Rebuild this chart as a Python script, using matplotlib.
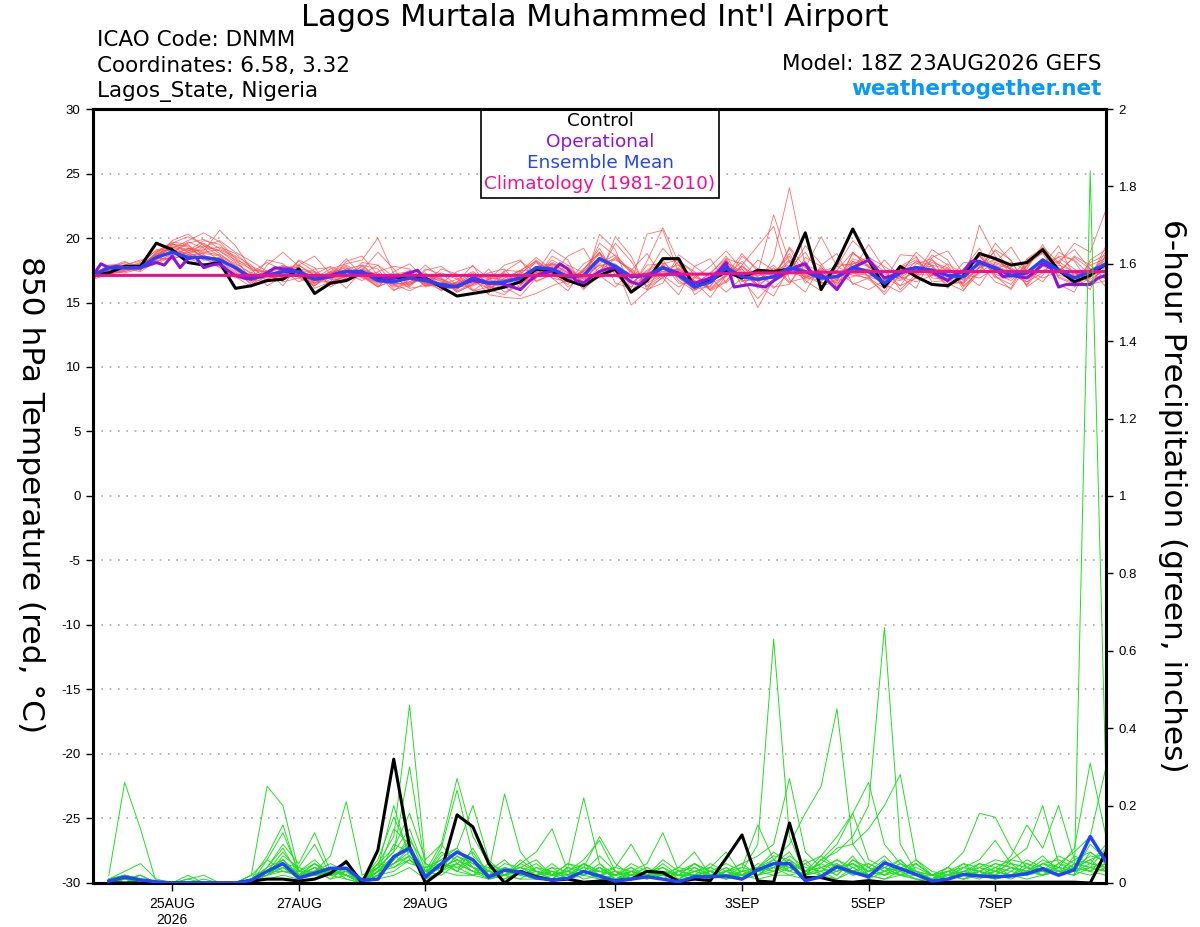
import numpy as np
import pandas as pd
import matplotlib
matplotlib.use('Agg')
import matplotlib.pyplot as plt
import matplotlib.dates as mdates
from matplotlib.patches import Rectangle

plt.rcParams['font.family'] = ['Liberation Sans', 'DejaVu Sans']
HEAD = ['DejaVu Sans']

# time axis: GEFS 18Z run, 6-hourly (operational 3-hourly)
times = pd.date_range('2026-08-23 18:00', periods=65, freq='6h')
ptimes = times[1:]
op_times = pd.date_range('2026-08-23 18:00', periods=129, freq='3h')

tick_dates = pd.to_datetime(['2026-08-25', '2026-08-27', '2026-08-29', '2026-09-01',
                             '2026-09-03', '2026-09-05', '2026-09-07'])
tick_labels = ['25AUG\n2026', '27AUG', '29AUG', '1SEP', '3SEP', '5SEP', '7SEP']

# 850 hPa temperature (C)
control_t = [17.1, 17.3, 17.8, 17.8, 19.6, 19.1, 18.1, 17.9, 18.1, 16.1,
             16.3, 16.7, 16.8, 17.6, 15.7, 16.5, 16.7, 17.3, 16.9, 16.9,
             17.0, 16.9, 16.2, 15.5, 15.7, 15.9, 16.2, 16.6, 17.6, 17.4,
             16.7, 16.3, 17.1, 17.6, 15.8, 16.7, 18.4, 18.4, 16.2, 16.7,
             17.4, 16.9, 17.5, 17.4, 17.6, 20.4, 16.0, 18.1, 20.7, 18.3,
             16.2, 17.8, 17.0, 16.4, 16.3, 17.1, 18.8, 18.4, 17.9, 18.1,
             19.1, 17.5, 16.6, 17.1, 18.0]

mean_t = [17.1, 17.7, 17.7, 17.7, 18.5, 18.9, 18.5, 18.5, 18.3, 17.7,
          16.9, 17.1, 17.4, 17.4, 16.8, 17.0, 17.4, 17.4, 16.7, 16.6,
          16.9, 16.7, 16.4, 16.2, 16.9, 16.5, 16.6, 16.9, 17.7, 17.6,
          17.0, 17.1, 18.4, 17.8, 17.0, 17.1, 17.7, 17.1, 16.2, 16.6,
          17.7, 17.0, 16.8, 17.0, 17.7, 17.4, 16.9, 17.0, 17.7, 17.4,
          16.5, 17.3, 17.7, 17.5, 17.1, 17.0, 18.1, 17.7, 17.1, 17.3,
          18.3, 17.5, 16.9, 17.4, 18.0]

oper_t = [17.1, 18.0, 17.7, 17.8, 17.7, 17.7, 17.7, 17.9, 18.1, 17.9,
          18.6, 17.7, 18.4, 18.5, 17.7, 17.9, 18.0, 17.5, 17.1, 16.9,
          16.8, 17.0, 17.3, 17.7, 17.6, 17.6, 17.3, 17.0, 16.8, 16.9,
          17.1, 17.3, 17.4, 17.3, 17.2, 17.2, 17.0, 16.9, 16.9, 17.1,
          17.3, 17.5, 16.8, 16.6, 16.3, 16.2, 16.3, 16.5, 16.7, 16.6,
          16.5, 16.5, 16.4, 16.2, 16.0, 16.6, 17.1, 17.3, 17.4, 18.0,
          17.6, 16.7, 16.5, 17.0, 17.4, 17.6, 17.7, 17.1, 16.6, 16.4,
          16.9, 17.3, 17.7, 17.5, 17.3, 16.8, 16.5, 16.7, 16.9, 17.4,
          18.1, 16.2, 16.3, 16.4, 16.3, 16.2, 16.7, 17.1, 17.5, 17.8,
          18.0, 17.1, 17.2, 16.6, 16.0, 16.9, 17.7, 18.0, 18.3, 17.6,
          16.9, 17.1, 17.4, 17.6, 17.7, 17.6, 17.4, 17.0, 16.7, 17.2,
          17.4, 18.2, 18.2, 17.9, 17.6, 17.0, 17.1, 17.0, 16.9, 17.4,
          18.0, 17.7, 16.2, 16.4, 16.4, 16.4, 16.4, 16.9, 17.1]

clim_t = [17.1, 17.1, 17.1, 17.1, 17.1, 17.1, 17.1, 17.1, 17.1, 17.1,
          17.1, 17.1, 17.1, 17.1, 17.1, 17.1, 17.1, 17.1, 17.1, 17.1,
          17.1, 17.1, 17.1, 17.1, 17.1, 17.1, 17.1, 17.1, 17.1, 17.1,
          17.1, 17.1, 17.1, 17.1, 17.1, 17.15, 17.15, 17.2, 17.2, 17.2,
          17.25, 17.25, 17.3, 17.3, 17.3, 17.35, 17.35, 17.35, 17.4, 17.4,
          17.4, 17.4, 17.4, 17.4, 17.4, 17.4, 17.4, 17.4, 17.4, 17.4,
          17.4, 17.4, 17.4, 17.4, 17.4]

temp_members = [
    [17.0, 17.6, 17.9, 18.2, 19.0, 19.6, 20.1, 19.5, 19.0, 18.1,
     17.2, 17.0, 17.6, 17.9, 17.1, 16.8, 17.6, 17.9, 16.9, 16.4,
     16.6, 17.2, 16.8, 15.9, 16.5, 16.9, 17.3, 16.4, 17.2, 18.1,
     17.6, 16.8, 18.0, 18.7, 17.4, 16.5, 17.2, 17.6, 16.0, 16.3,
     17.9, 17.3, 16.4, 18.5, 23.9, 17.8, 16.5, 16.8, 18.4, 17.9,
     16.8, 17.0, 18.2, 17.9, 16.6, 16.5, 17.7, 18.4, 17.5, 16.9,
     17.8, 18.2, 17.3, 16.8, 17.6],
    [17.3, 17.4, 17.5, 17.9, 18.6, 19.2, 19.8, 20.4, 19.7, 18.4,
     16.8, 16.6, 17.2, 17.0, 16.5, 17.4, 17.9, 17.2, 16.4, 16.9,
     17.3, 16.5, 16.0, 16.6, 17.3, 16.2, 16.1, 17.2, 18.3, 17.3,
     16.6, 17.6, 18.9, 17.4, 16.5, 17.5, 18.3, 16.7, 15.9, 17.0,
     18.3, 16.6, 17.3, 21.8, 18.1, 16.9, 17.4, 17.8, 17.1, 16.9,
     16.1, 17.8, 18.5, 16.9, 16.8, 17.6, 18.6, 17.2, 16.7, 17.8,
     19.2, 17.0, 16.5, 17.9, 18.4],
    [16.9, 17.8, 17.6, 17.4, 18.2, 18.7, 19.2, 19.0, 20.6, 19.4,
     17.6, 17.3, 16.9, 17.5, 17.3, 16.6, 17.0, 17.6, 17.1, 16.3,
     16.5, 16.9, 16.7, 15.8, 16.4, 16.8, 17.0, 16.6, 17.5, 17.9,
     17.3, 16.6, 18.2, 18.3, 17.6, 16.8, 17.3, 17.4, 16.6, 16.1,
     17.2, 17.6, 16.2, 17.3, 17.5, 18.2, 16.3, 16.6, 18.8, 18.1,
     16.9, 16.7, 17.4, 18.3, 17.4, 16.3, 17.4, 18.0, 17.6, 16.6,
     18.0, 18.5, 17.6, 16.6, 17.2],
    [17.2, 17.9, 18.0, 17.6, 18.8, 19.6, 18.9, 18.3, 18.1, 17.3,
     16.5, 17.4, 17.8, 17.1, 16.4, 17.2, 17.8, 17.0, 16.2, 16.8,
     17.1, 16.3, 16.5, 16.5, 17.1, 16.0, 16.9, 17.5, 17.4, 17.2,
     16.4, 17.5, 19.2, 17.1, 16.2, 17.9, 18.0, 16.5, 16.5, 17.2,
     18.6, 16.7, 16.7, 16.9, 19.2, 17.0, 17.6, 16.5, 17.3, 16.8,
     15.8, 17.9, 17.2, 17.1, 17.6, 16.9, 18.9, 17.0, 16.4, 18.1,
     18.8, 16.9, 16.4, 17.0, 19.0],
    [17.0, 17.5, 17.8, 18.0, 18.4, 18.4, 18.7, 19.3, 19.8, 18.9,
     18.2, 17.4, 16.3, 17.9, 18.6, 17.2, 16.1, 17.5, 18.9, 17.6,
     16.2, 17.5, 17.8, 16.9, 15.9, 16.8, 17.9, 18.3, 16.6, 17.2,
     18.6, 19.2, 17.1, 16.2, 17.5, 18.8, 16.9, 15.6, 17.8, 18.4,
     16.5, 17.9, 19.4, 20.9, 16.8, 15.8, 17.9, 18.8, 16.4, 16.9,
     18.3, 17.0, 16.1, 18.5, 19.0, 17.2, 16.3, 18.1, 19.3, 17.4,
     16.6, 18.2, 19.1, 17.6, 16.2],
    [16.8, 17.2, 17.4, 17.7, 18.9, 19.5, 19.4, 18.7, 17.9, 17.0,
     16.2, 17.9, 18.9, 17.8, 16.1, 16.6, 18.2, 18.6, 17.1, 15.9,
     16.8, 17.9, 16.9, 15.8, 16.4, 17.6, 16.2, 15.5, 16.9, 18.6,
     17.9, 16.4, 20.3, 19.1, 15.9, 17.2, 19.2, 17.9, 16.6, 15.4,
     17.1, 18.8, 17.4, 16.1, 17.3, 19.4, 18.0, 16.2, 17.5, 19.5,
     17.6, 16.0, 17.2, 19.1, 18.3, 16.2, 17.4, 19.6, 18.2, 16.3,
     17.9, 19.4, 17.0, 16.0, 18.8],
    [17.4, 17.7, 17.9, 18.3, 18.1, 18.8, 19.6, 19.9, 19.2, 18.6,
     17.9, 16.6, 16.9, 18.3, 17.7, 16.2, 16.9, 18.1, 17.9, 16.4,
     15.9, 16.5, 17.6, 17.2, 16.0, 15.7, 17.4, 18.2, 17.3, 19.1,
     18.3, 16.1, 17.0, 20.1, 18.6, 16.0, 16.5, 18.7, 17.8, 16.9,
     15.8, 16.9, 18.3, 17.5, 17.9, 16.7, 15.9, 17.8, 19.8, 18.6,
     16.9, 16.3, 18.0, 18.4, 16.5, 15.9, 17.8, 19.0, 17.5, 16.4,
     18.2, 17.3, 18.6, 17.9, 16.8],
    [17.1, 17.3, 17.6, 17.5, 18.7, 19.4, 19.1, 18.6, 18.4, 17.6,
     16.7, 18.3, 18.0, 16.9, 16.3, 17.1, 18.4, 17.1, 16.2, 17.4,
     18.0, 16.8, 15.9, 16.6, 17.9, 16.0, 15.6, 16.8, 18.2, 16.9,
     15.9, 17.6, 18.9, 16.5, 16.1, 18.2, 20.8, 18.1, 15.6, 16.5,
     18.4, 18.0, 16.3, 15.5, 17.7, 18.9, 17.0, 16.0, 18.2, 17.0,
     15.6, 17.2, 18.9, 17.8, 16.1, 17.6, 19.2, 17.1, 16.0, 17.9,
     19.3, 18.1, 16.2, 16.9, 19.4],
    [17.0, 17.6, 18.1, 17.8, 18.3, 19.0, 18.8, 19.6, 18.8, 17.8,
     17.0, 16.8, 17.3, 17.6, 16.9, 17.6, 18.0, 18.3, 20.0, 17.2,
     16.5, 17.3, 16.3, 16.0, 17.0, 16.9, 16.8, 16.9, 17.3, 17.8,
     17.2, 16.9, 17.9, 18.0, 17.1, 17.0, 17.4, 17.6, 16.7, 16.2,
     18.1, 17.4, 16.4, 17.1, 18.3, 17.1, 16.6, 18.0, 17.9, 17.0,
     16.6, 17.1, 17.7, 17.8, 16.7, 16.8, 18.0, 17.9, 17.3, 17.1,
     18.4, 17.6, 17.1, 17.6, 17.7],
    [17.3, 17.5, 17.7, 18.1, 18.5, 19.8, 20.3, 19.4, 18.6, 17.5,
     16.7, 17.3, 17.9, 17.3, 16.5, 17.1, 17.6, 17.3, 16.5, 16.9,
     17.2, 16.6, 16.2, 16.3, 16.7, 16.6, 16.5, 17.4, 18.5, 17.5,
     16.7, 17.2, 18.3, 17.7, 16.9, 17.3, 17.8, 17.2, 16.3, 16.9,
     17.8, 17.1, 17.2, 17.5, 17.6, 17.9, 17.4, 17.2, 17.5, 17.6,
     16.7, 17.6, 17.3, 17.6, 17.5, 17.4, 18.0, 17.4, 17.0, 18.3,
     19.0, 18.0, 19.6, 18.9, 22.2],
    [16.9, 17.4, 17.3, 17.6, 18.0, 18.6, 19.2, 18.9, 18.7, 18.0,
     17.3, 17.0, 16.8, 17.6, 17.4, 16.8, 16.8, 17.4, 17.0, 16.2,
     16.4, 16.9, 16.8, 16.3, 16.6, 16.1, 16.7, 16.7, 17.8, 18.0,
     17.4, 16.4, 17.5, 17.9, 14.8, 15.9, 17.0, 17.5, 16.9, 16.6,
     17.3, 16.8, 15.3, 16.6, 17.3, 17.0, 16.5, 16.7, 18.2, 17.8,
     17.0, 16.9, 17.8, 17.2, 16.4, 16.6, 17.8, 18.1, 17.7, 16.9,
     17.5, 17.9, 17.4, 16.5, 17.3],
    [17.2, 17.8, 17.6, 17.9, 19.1, 19.0, 18.4, 18.0, 17.8, 17.1,
     16.8, 17.5, 17.7, 17.0, 16.3, 17.3, 17.7, 16.9, 16.6, 17.2,
     17.4, 16.3, 16.4, 16.8, 17.4, 16.5, 16.2, 17.3, 18.1, 16.9,
     16.6, 18.0, 18.7, 17.3, 16.6, 20.3, 20.6, 17.3, 16.4, 17.3,
     18.4, 16.3, 17.5, 17.3, 18.6, 16.5, 17.7, 16.7, 17.0, 17.4,
     16.2, 17.7, 18.3, 17.1, 17.1, 17.5, 18.7, 16.9, 16.9, 17.9,
     18.9, 17.4, 16.6, 18.1, 18.7],
    [17.0, 17.2, 17.5, 17.8, 18.6, 19.3, 19.0, 19.8, 19.5, 18.2,
     17.6, 16.3, 17.0, 18.2, 17.4, 16.4, 16.7, 17.9, 17.6, 16.0,
     16.3, 17.6, 17.2, 16.4, 16.7, 17.3, 17.6, 16.1, 16.9, 18.0,
     17.3, 16.0, 17.3, 19.6, 18.2, 16.2, 16.9, 18.2, 17.4, 15.9,
     16.6, 18.6, 17.6, 16.2, 16.4, 18.5, 17.8, 16.2, 18.9, 17.8,
     16.4, 15.8, 17.0, 18.7, 17.9, 16.0, 17.3, 19.1, 18.3, 16.2,
     17.1, 18.9, 18.2, 16.4, 16.7],
    [17.1, 17.6, 17.8, 17.6, 18.4, 18.9, 19.7, 19.2, 18.2, 17.4,
     16.4, 17.1, 17.6, 17.5, 16.8, 17.4, 17.5, 17.1, 16.3, 16.6,
     16.9, 16.5, 16.3, 16.4, 17.2, 16.2, 16.6, 17.0, 17.5, 17.4,
     16.8, 17.4, 18.8, 17.5, 16.4, 17.0, 17.9, 16.9, 16.0, 16.7,
     17.7, 17.2, 14.6, 16.8, 18.2, 17.3, 17.1, 17.1, 17.8, 17.5,
     16.6, 17.4, 17.6, 17.3, 16.8, 17.0, 18.2, 17.6, 17.1, 17.4,
     18.1, 17.1, 16.9, 17.5, 18.3],
    [16.8, 17.9, 17.7, 17.9, 18.8, 19.1, 18.6, 18.9, 19.1, 18.5,
     17.5, 17.4, 17.2, 17.3, 16.6, 16.6, 17.1, 17.8, 16.9, 16.4,
     16.6, 17.2, 16.6, 16.2, 16.3, 16.8, 17.2, 16.8, 17.1, 18.3,
     17.6, 16.6, 17.7, 18.5, 17.3, 16.9, 17.1, 17.7, 16.7, 16.0,
     17.1, 17.8, 16.6, 17.7, 16.5, 18.0, 16.7, 17.5, 18.9, 17.7,
     17.2, 16.8, 17.4, 18.1, 17.7, 16.4, 21.0, 18.6, 17.2, 16.6,
     17.3, 18.6, 18.3, 17.1, 17.5],
    [17.3, 17.3, 17.9, 17.7, 18.3, 19.5, 19.3, 18.5, 17.7, 16.9,
     17.3, 18.1, 17.5, 16.6, 17.2, 17.8, 17.2, 16.7, 17.4, 17.8,
     17.6, 16.2, 16.5, 17.4, 17.8, 16.9, 15.8, 16.3, 17.5, 17.6,
     16.2, 17.0, 19.6, 18.6, 17.4, 16.3, 17.1, 16.2, 16.9, 17.8,
     19.0, 17.6, 16.1, 16.7, 19.3, 17.7, 16.8, 17.5, 16.5, 16.0,
     16.7, 18.7, 18.6, 16.6, 16.7, 18.1, 18.0, 16.6, 16.1, 18.4,
     19.2, 16.4, 15.8, 18.3, 19.1],
    [17.1, 17.5, 17.6, 18.0, 18.2, 18.5, 18.9, 19.1, 19.3, 18.8,
     17.7, 16.9, 17.0, 17.9, 17.1, 16.9, 17.0, 17.3, 17.3, 16.5,
     16.4, 17.0, 16.9, 16.2, 16.5, 16.7, 16.8, 16.4, 17.4, 18.0,
     17.7, 16.8, 17.4, 18.4, 17.5, 16.6, 17.6, 17.9, 17.0, 16.5,
     17.0, 18.2, 16.9, 16.9, 17.4, 17.7, 20.1, 17.8, 18.0, 18.3,
     17.4, 16.3, 16.9, 17.9, 17.6, 16.7, 17.7, 18.3, 17.6, 17.0,
     17.8, 17.5, 17.3, 16.6, 17.8],
    [17.0, 17.7, 18.2, 17.5, 18.9, 19.7, 19.5, 18.3, 18.5, 17.7,
     16.6, 17.2, 17.8, 17.7, 16.5, 17.3, 17.4, 17.0, 16.7, 16.8,
     17.5, 16.4, 16.4, 16.5, 16.9, 16.3, 16.7, 17.5, 18.2, 17.3,
     16.9, 17.4, 18.5, 17.4, 16.5, 17.4, 18.1, 17.1, 16.4, 16.9,
     17.9, 16.9, 17.1, 17.2, 18.8, 16.8, 17.1, 16.9, 17.4, 17.3,
     16.4, 17.6, 18.1, 17.2, 16.9, 17.3, 18.6, 17.4, 16.9, 17.6,
     19.5, 17.4, 16.5, 17.2, 18.6],
    [17.2, 17.4, 17.4, 17.8, 18.5, 18.3, 19.0, 19.4, 19.0, 18.3,
     17.8, 17.3, 16.6, 16.9, 17.6, 17.7, 16.8, 17.2, 17.9, 17.0,
     16.1, 16.3, 17.3, 16.8, 15.9, 16.2, 17.5, 17.4, 16.7, 17.1,
     17.9, 17.3, 16.9, 17.5, 16.6, 16.0, 18.0, 18.3, 17.2, 16.0,
     16.7, 17.8, 17.0, 17.9, 16.6, 16.9, 17.5, 16.4, 18.0, 18.5,
     17.8, 17.0, 16.6, 17.1, 18.0, 17.2, 16.9, 17.6, 18.1, 17.5,
     16.9, 17.4, 18.5, 17.6, 16.8],
    [16.9, 17.6, 17.8, 17.9, 18.7, 19.3, 18.7, 18.8, 18.6, 17.9,
     17.0, 17.2, 17.3, 17.1, 16.9, 16.5, 17.1, 17.6, 16.9, 16.7,
     16.8, 16.6, 16.2, 16.3, 17.0, 15.6, 15.4, 15.3, 15.7, 16.3,
     16.7, 17.1, 17.9, 17.6, 17.1, 17.2, 17.4, 17.3, 16.6, 16.8,
     17.5, 16.9, 17.4, 17.4, 17.3, 17.2, 16.8, 17.3, 17.3, 17.1,
     16.8, 17.3, 17.4, 17.6, 17.0, 17.1, 17.9, 17.8, 17.2, 17.2,
     18.2, 17.7, 17.2, 17.4, 17.9],
]

# 6-hour precipitation (inches), valid from 24AUG 00Z
control_p = [0.00, 0.00, 0.00, 0.00, 0.00, 0.00, 0.00, 0.00,
             0.00, 0.005, 0.01, 0.01, 0.005, 0.01, 0.025, 0.055,
             0.00, 0.085, 0.32, 0.093, 0.00, 0.03, 0.176, 0.145,
             0.05, 0.00, 0.03, 0.016, 0.007, 0.01, 0.002, 0.005,
             0.006, 0.01, 0.03, 0.027, 0.004, 0.01, 0.006, 0.064,
             0.124, 0.005, 0.002, 0.155, 0.014, 0.014, 0.004, 0.002,
             0.006, 0.002, 0.002, 0.002, 0.002, 0.002, 0.002, 0.002,
             0.002, 0.002, 0.002, 0.002, 0.002, 0.002, 0.00, 0.08]

mean_p = [0.005, 0.015, 0.008, 0.003, 0.00, 0.00, 0.00, 0.00,
          0.00, 0.007, 0.03, 0.05, 0.013, 0.025, 0.038, 0.038,
          0.007, 0.01, 0.068, 0.09, 0.015, 0.05, 0.08, 0.06,
          0.015, 0.033, 0.028, 0.013, 0.008, 0.012, 0.03, 0.018,
          0.005, 0.01, 0.016, 0.01, 0.003, 0.016, 0.016, 0.018,
          0.01, 0.034, 0.05, 0.05, 0.006, 0.016, 0.042, 0.028,
          0.016, 0.052, 0.037, 0.022, 0.005, 0.01, 0.022, 0.018,
          0.016, 0.018, 0.024, 0.037, 0.02, 0.034, 0.12, 0.055]

precip_members = [
    [0.02, 0.26, 0.14, 0.00, 0.00, 0.00, 0.00, 0.00,
     0.00, 0.01, 0.03, 0.06, 0.02, 0.04, 0.01, 0.02,
     0.00, 0.03, 0.05, 0.08, 0.02, 0.04, 0.06, 0.03,
     0.01, 0.02, 0.05, 0.03, 0.01, 0.04, 0.22, 0.05,
     0.01, 0.02, 0.03, 0.01, 0.00, 0.02, 0.03, 0.01,
     0.02, 0.04, 0.03, 0.06, 0.01, 0.02, 0.03, 0.05,
     0.02, 0.01, 0.03, 0.01, 0.00, 0.01, 0.02, 0.03,
     0.01, 0.02, 0.04, 0.02, 0.03, 0.02, 1.84, 0.25],
    [0.01, 0.03, 0.05, 0.01, 0.00, 0.00, 0.00, 0.00,
     0.00, 0.02, 0.25, 0.20, 0.03, 0.02, 0.04, 0.01,
     0.00, 0.02, 0.06, 0.10, 0.01, 0.03, 0.07, 0.04,
     0.02, 0.01, 0.03, 0.02, 0.04, 0.01, 0.03, 0.02,
     0.00, 0.03, 0.02, 0.04, 0.01, 0.03, 0.02, 0.02,
     0.03, 0.10, 0.63, 0.12, 0.02, 0.03, 0.01, 0.04,
     0.01, 0.03, 0.02, 0.01, 0.00, 0.02, 0.03, 0.02,
     0.01, 0.03, 0.02, 0.04, 0.02, 0.05, 0.03, 0.02],
    [0.01, 0.02, 0.01, 0.00, 0.00, 0.01, 0.00, 0.00,
     0.00, 0.01, 0.07, 0.15, 0.02, 0.05, 0.02, 0.03,
     0.01, 0.04, 0.20, 0.06, 0.02, 0.05, 0.03, 0.02,
     0.03, 0.02, 0.01, 0.04, 0.02, 0.03, 0.01, 0.02,
     0.01, 0.02, 0.01, 0.03, 0.02, 0.01, 0.04, 0.02,
     0.01, 0.03, 0.05, 0.04, 0.02, 0.06, 0.08, 0.12,
     0.20, 0.66, 0.10, 0.03, 0.01, 0.02, 0.01, 0.03,
     0.02, 0.01, 0.03, 0.02, 0.04, 0.03, 0.02, 0.04],
    [0.00, 0.01, 0.02, 0.00, 0.00, 0.00, 0.00, 0.00,
     0.00, 0.00, 0.06, 0.13, 0.03, 0.02, 0.03, 0.02,
     0.00, 0.05, 0.12, 0.46, 0.05, 0.03, 0.05, 0.08,
     0.02, 0.04, 0.02, 0.01, 0.03, 0.02, 0.04, 0.03,
     0.02, 0.01, 0.02, 0.01, 0.03, 0.02, 0.01, 0.03,
     0.02, 0.04, 0.06, 0.10, 0.18, 0.25, 0.45, 0.10,
     0.04, 0.02, 0.05, 0.03, 0.01, 0.02, 0.01, 0.02,
     0.03, 0.02, 0.05, 0.03, 0.02, 0.04, 0.06, 0.03],
    [0.01, 0.01, 0.00, 0.00, 0.00, 0.00, 0.00, 0.00,
     0.00, 0.01, 0.04, 0.10, 0.05, 0.13, 0.03, 0.02,
     0.00, 0.03, 0.07, 0.09, 0.03, 0.10, 0.27, 0.12,
     0.05, 0.03, 0.04, 0.02, 0.03, 0.01, 0.05, 0.02,
     0.01, 0.03, 0.02, 0.02, 0.01, 0.04, 0.02, 0.03,
     0.05, 0.07, 0.10, 0.27, 0.08, 0.04, 0.06, 0.03,
     0.02, 0.04, 0.03, 0.05, 0.02, 0.01, 0.03, 0.02,
     0.04, 0.02, 0.03, 0.05, 0.03, 0.02, 0.08, 0.05],
    [0.00, 0.02, 0.01, 0.00, 0.00, 0.00, 0.00, 0.00,
     0.00, 0.02, 0.03, 0.05, 0.04, 0.10, 0.02, 0.04,
     0.01, 0.06, 0.17, 0.08, 0.03, 0.06, 0.09, 0.20,
     0.06, 0.02, 0.03, 0.02, 0.05, 0.02, 0.03, 0.01,
     0.02, 0.04, 0.01, 0.03, 0.02, 0.02, 0.03, 0.01,
     0.03, 0.04, 0.08, 0.05, 0.03, 0.05, 0.09, 0.10,
     0.14, 0.20, 0.28, 0.06, 0.02, 0.03, 0.02, 0.01,
     0.03, 0.05, 0.02, 0.03, 0.04, 0.03, 0.10, 0.06],
    [0.01, 0.00, 0.01, 0.00, 0.00, 0.02, 0.00, 0.00,
     0.00, 0.01, 0.02, 0.04, 0.02, 0.03, 0.07, 0.21,
     0.02, 0.04, 0.08, 0.30, 0.04, 0.05, 0.03, 0.06,
     0.03, 0.23, 0.08, 0.03, 0.02, 0.03, 0.02, 0.04,
     0.02, 0.03, 0.05, 0.13, 0.03, 0.02, 0.01, 0.03,
     0.02, 0.03, 0.04, 0.02, 0.03, 0.07, 0.04, 0.03,
     0.05, 0.03, 0.06, 0.02, 0.01, 0.04, 0.02, 0.03,
     0.02, 0.04, 0.03, 0.02, 0.05, 0.04, 0.03, 0.07],
    [0.00, 0.01, 0.02, 0.00, 0.00, 0.00, 0.01, 0.00,
     0.00, 0.00, 0.03, 0.08, 0.03, 0.06, 0.02, 0.03,
     0.00, 0.03, 0.14, 0.10, 0.02, 0.09, 0.24, 0.07,
     0.03, 0.02, 0.05, 0.08, 0.14, 0.03, 0.02, 0.04,
     0.01, 0.02, 0.03, 0.02, 0.04, 0.03, 0.02, 0.01,
     0.03, 0.02, 0.05, 0.03, 0.06, 0.02, 0.04, 0.05,
     0.03, 0.05, 0.04, 0.02, 0.01, 0.02, 0.03, 0.04,
     0.02, 0.06, 0.09, 0.20, 0.05, 0.03, 0.04, 0.05],
    [0.01, 0.01, 0.01, 0.00, 0.00, 0.00, 0.00, 0.00,
     0.00, 0.01, 0.02, 0.06, 0.02, 0.03, 0.04, 0.02,
     0.01, 0.05, 0.09, 0.18, 0.06, 0.10, 0.05, 0.03,
     0.02, 0.04, 0.03, 0.02, 0.01, 0.04, 0.03, 0.02,
     0.03, 0.01, 0.02, 0.03, 0.02, 0.05, 0.03, 0.02,
     0.02, 0.03, 0.04, 0.06, 0.03, 0.02, 0.05, 0.02,
     0.03, 0.02, 0.04, 0.05, 0.02, 0.04, 0.08, 0.18,
     0.17, 0.09, 0.04, 0.03, 0.02, 0.05, 0.04, 0.03],
    [0.00, 0.01, 0.00, 0.00, 0.00, 0.01, 0.02, 0.00,
     0.00, 0.02, 0.06, 0.03, 0.02, 0.04, 0.02, 0.03,
     0.01, 0.05, 0.04, 0.06, 0.03, 0.04, 0.08, 0.05,
     0.04, 0.03, 0.02, 0.03, 0.02, 0.05, 0.04, 0.12,
     0.05, 0.02, 0.04, 0.02, 0.03, 0.05, 0.03, 0.02,
     0.04, 0.15, 0.06, 0.03, 0.05, 0.07, 0.12, 0.18,
     0.26, 0.10, 0.05, 0.03, 0.02, 0.01, 0.04, 0.03,
     0.05, 0.04, 0.03, 0.06, 0.04, 0.09, 0.31, 0.12],
    [0.00, 0.00, 0.01, 0.00, 0.00, 0.00, 0.00, 0.00,
     0.00, 0.01, 0.02, 0.05, 0.01, 0.03, 0.02, 0.04,
     0.00, 0.02, 0.06, 0.12, 0.02, 0.05, 0.04, 0.06,
     0.02, 0.05, 0.04, 0.02, 0.03, 0.02, 0.05, 0.03,
     0.04, 0.10, 0.03, 0.02, 0.04, 0.08, 0.02, 0.03,
     0.01, 0.03, 0.05, 0.04, 0.02, 0.06, 0.10, 0.18,
     0.06, 0.04, 0.02, 0.03, 0.01, 0.03, 0.02, 0.05,
     0.03, 0.07, 0.15, 0.09, 0.20, 0.06, 0.05, 0.04],
    [0.01, 0.02, 0.01, 0.00, 0.00, 0.00, 0.00, 0.00,
     0.00, 0.00, 0.03, 0.04, 0.02, 0.05, 0.03, 0.02,
     0.00, 0.04, 0.05, 0.07, 0.02, 0.04, 0.06, 0.04,
     0.03, 0.02, 0.03, 0.05, 0.02, 0.03, 0.06, 0.11,
     0.03, 0.02, 0.03, 0.04, 0.02, 0.03, 0.04, 0.08,
     0.02, 0.04, 0.03, 0.05, 0.03, 0.04, 0.02, 0.06,
     0.03, 0.05, 0.04, 0.02, 0.01, 0.03, 0.04, 0.06,
     0.11, 0.05, 0.04, 0.03, 0.05, 0.08, 0.12, 0.30],
    [0.00, 0.01, 0.00, 0.00, 0.00, 0.00, 0.00, 0.00,
     0.00, 0.01, 0.04, 0.09, 0.02, 0.03, 0.05, 0.03,
     0.00, 0.03, 0.07, 0.05, 0.04, 0.06, 0.03, 0.09,
     0.02, 0.03, 0.04, 0.06, 0.02, 0.03, 0.02, 0.05,
     0.02, 0.04, 0.02, 0.05, 0.02, 0.02, 0.05, 0.03,
     0.04, 0.03, 0.06, 0.04, 0.02, 0.04, 0.05, 0.03,
     0.04, 0.07, 0.03, 0.04, 0.02, 0.03, 0.05, 0.04,
     0.03, 0.02, 0.04, 0.07, 0.03, 0.04, 0.06, 0.08],
    [0.01, 0.00, 0.01, 0.00, 0.00, 0.00, 0.00, 0.00,
     0.00, 0.00, 0.02, 0.07, 0.04, 0.02, 0.03, 0.05,
     0.01, 0.02, 0.10, 0.08, 0.02, 0.07, 0.09, 0.04,
     0.03, 0.06, 0.02, 0.04, 0.03, 0.02, 0.03, 0.07,
     0.03, 0.02, 0.04, 0.02, 0.03, 0.04, 0.02, 0.04,
     0.02, 0.05, 0.04, 0.07, 0.04, 0.03, 0.06, 0.04,
     0.05, 0.03, 0.05, 0.03, 0.02, 0.01, 0.03, 0.05,
     0.04, 0.03, 0.06, 0.04, 0.02, 0.07, 0.05, 0.10],
    [0.00, 0.02, 0.01, 0.00, 0.00, 0.00, 0.00, 0.00,
     0.00, 0.01, 0.03, 0.05, 0.03, 0.05, 0.02, 0.06,
     0.00, 0.04, 0.08, 0.14, 0.03, 0.04, 0.05, 0.03,
     0.04, 0.02, 0.06, 0.03, 0.02, 0.05, 0.03, 0.02,
     0.04, 0.03, 0.02, 0.06, 0.03, 0.02, 0.03, 0.05,
     0.03, 0.04, 0.07, 0.06, 0.03, 0.05, 0.03, 0.07,
     0.02, 0.04, 0.06, 0.02, 0.01, 0.02, 0.04, 0.03,
     0.05, 0.04, 0.03, 0.05, 0.06, 0.04, 0.07, 0.06],
    [0.01, 0.01, 0.02, 0.00, 0.00, 0.00, 0.00, 0.00,
     0.00, 0.00, 0.04, 0.06, 0.02, 0.04, 0.03, 0.02,
     0.01, 0.03, 0.06, 0.11, 0.05, 0.03, 0.07, 0.05,
     0.02, 0.04, 0.03, 0.02, 0.04, 0.03, 0.05, 0.03,
     0.02, 0.05, 0.03, 0.03, 0.02, 0.05, 0.02, 0.03,
     0.05, 0.02, 0.05, 0.08, 0.02, 0.06, 0.04, 0.05,
     0.03, 0.06, 0.02, 0.05, 0.02, 0.04, 0.02, 0.04,
     0.06, 0.05, 0.04, 0.03, 0.07, 0.05, 0.04, 0.09],
    [0.00, 0.00, 0.00, 0.00, 0.00, 0.00, 0.00, 0.00,
     0.00, 0.01, 0.02, 0.04, 0.01, 0.03, 0.02, 0.03,
     0.00, 0.02, 0.05, 0.09, 0.03, 0.05, 0.04, 0.02,
     0.05, 0.03, 0.02, 0.03, 0.01, 0.04, 0.02, 0.04,
     0.01, 0.03, 0.02, 0.02, 0.01, 0.03, 0.04, 0.02,
     0.03, 0.02, 0.03, 0.05, 0.03, 0.04, 0.02, 0.06,
     0.04, 0.02, 0.03, 0.06, 0.03, 0.02, 0.05, 0.02,
     0.04, 0.06, 0.05, 0.04, 0.03, 0.06, 0.08, 0.05],
    [0.01, 0.02, 0.01, 0.00, 0.00, 0.00, 0.00, 0.00,
     0.00, 0.00, 0.03, 0.03, 0.02, 0.02, 0.04, 0.02,
     0.00, 0.03, 0.04, 0.07, 0.02, 0.08, 0.06, 0.04,
     0.01, 0.02, 0.04, 0.03, 0.02, 0.02, 0.04, 0.02,
     0.03, 0.01, 0.03, 0.02, 0.02, 0.01, 0.03, 0.02,
     0.02, 0.03, 0.02, 0.04, 0.05, 0.02, 0.03, 0.04,
     0.02, 0.03, 0.04, 0.03, 0.01, 0.03, 0.02, 0.03,
     0.02, 0.04, 0.02, 0.05, 0.04, 0.03, 0.05, 0.04],
    [0.00, 0.01, 0.01, 0.00, 0.00, 0.00, 0.00, 0.00,
     0.00, 0.01, 0.02, 0.03, 0.03, 0.03, 0.01, 0.04,
     0.00, 0.02, 0.03, 0.06, 0.03, 0.02, 0.05, 0.03,
     0.02, 0.01, 0.03, 0.02, 0.03, 0.01, 0.03, 0.03,
     0.02, 0.03, 0.01, 0.03, 0.02, 0.02, 0.02, 0.04,
     0.01, 0.02, 0.04, 0.03, 0.02, 0.03, 0.04, 0.02,
     0.03, 0.04, 0.02, 0.02, 0.02, 0.02, 0.03, 0.02,
     0.03, 0.02, 0.03, 0.03, 0.02, 0.04, 0.03, 0.05],
    [0.00, 0.00, 0.01, 0.00, 0.00, 0.00, 0.00, 0.00,
     0.00, 0.00, 0.01, 0.02, 0.01, 0.02, 0.02, 0.01,
     0.00, 0.01, 0.02, 0.04, 0.01, 0.03, 0.02, 0.02,
     0.01, 0.02, 0.01, 0.01, 0.02, 0.01, 0.02, 0.01,
     0.01, 0.02, 0.01, 0.02, 0.01, 0.01, 0.02, 0.01,
     0.02, 0.01, 0.02, 0.02, 0.01, 0.02, 0.01, 0.03,
     0.02, 0.01, 0.02, 0.01, 0.01, 0.02, 0.01, 0.02,
     0.01, 0.02, 0.01, 0.02, 0.03, 0.02, 0.04, 0.03],
]

temp_ticks = [-30, -25, -20, -15, -10, -5, 0, 5, 10, 15, 20, 25, 30]
precip_ticks = [0, 0.2, 0.4, 0.6, 0.8, 1, 1.2, 1.4, 1.6, 1.8, 2]
precip_tick_labels = ['0', '0.2', '0.4', '0.6', '0.8', '1', '1.2', '1.4', '1.6', '1.8', '2']

col_ctrl = 'black'
col_oper = '#8a14e0'
col_mean = '#2244ff'
col_clim = '#f0108c'

fig = plt.figure(figsize=(12, 9.27), dpi=100)
ax = fig.add_axes([0.0775, 0.0475, 0.8442, 0.8349])
ax2 = ax.twinx()

for m in temp_members:
    ax.plot(times, m, color='#ff4a4a', lw=0.6, alpha=0.8, zorder=2)
ax.plot(times, control_t, color=col_ctrl, lw=2.2, zorder=4)
ax.plot(op_times, oper_t, color=col_oper, lw=2.2, zorder=5)
ax.plot(times, mean_t, color=col_mean, lw=2.5, zorder=6)
ax.plot(times, clim_t, color=col_clim, lw=2.2, zorder=7)

for m in precip_members:
    ax2.plot(ptimes, m, color='#22dd22', lw=0.7, zorder=2)
ax2.plot(ptimes, control_p, color=col_ctrl, lw=2.2, zorder=4)
ax2.plot(ptimes, mean_p, color=col_mean, lw=2.5, zorder=5)

ax.set_xlim(times[0], times[-1])
ax.set_ylim(-30, 30)
ax2.set_ylim(0, 2)

ax.set_yticks(temp_ticks)
ax.set_yticklabels([str(t) for t in temp_ticks])
ax2.set_yticks(precip_ticks)
ax2.set_yticklabels(precip_tick_labels)
ax.set_xticks(tick_dates)
ax.set_xticklabels(tick_labels)

ax.yaxis.grid(True, linestyle=(0, (1, 4)), color='#aaaaaa', linewidth=1.2)
ax.tick_params(axis='y', direction='out', length=5, width=1, labelsize=9.5, pad=4)
ax2.tick_params(axis='y', direction='out', length=5, width=1, labelsize=9.5, pad=4)
ax.tick_params(axis='x', direction='out', length=6, width=1, labelsize=10, pad=4)
for a in (ax, ax2):
    for s in a.spines.values():
        s.set_linewidth(2.2)

# legend box
ax.add_patch(Rectangle((0.383, 0.885), 0.235, 0.115, transform=ax.transAxes,
                       facecolor='white', edgecolor='black', lw=1.2, zorder=20))
leg_items = [('Control', col_ctrl), ('Operational', col_oper),
             ('Ensemble Mean', col_mean), ('Climatology (1981-2010)', col_clim)]
for k, (txt, c) in enumerate(leg_items):
    ax.text(0.5005, 0.985 - k * 0.0275, txt, color=c, fontsize=13.3, family=HEAD,
            ha='center', va='center', transform=ax.transAxes, zorder=21)

fig.text(0.496, 0.981, "Lagos Murtala Muhammed Int'l Airport", fontsize=22,
         family=HEAD, ha='center', va='center')
fig.text(0.081, 0.957, 'ICAO Code: DNMM', fontsize=15.5, family=HEAD, ha='left', va='center')
fig.text(0.081, 0.929, 'Coordinates: 6.58, 3.32', fontsize=15.5, family=HEAD,
         ha='left', va='center')
fig.text(0.081, 0.901, 'Lagos_State, Nigeria', fontsize=15.5, family=HEAD,
         ha='left', va='center')
fig.text(0.918, 0.931, 'Model: 18Z 23AUG2026 GEFS', fontsize=15.5, family=HEAD,
         ha='right', va='center')
fig.text(0.918, 0.904, 'weathertogether.net', fontsize=15.5, fontweight='bold',
         family=HEAD, color='#0a9af5', ha='right', va='center')

fig.text(0.025, 0.466, '850 hPa Temperature (red, °C)', fontsize=22.5, family=HEAD,
         rotation=270, ha='center', va='center')
fig.text(0.977, 0.465, '6-hour Precipitation (green, inches)', fontsize=22.5,
         family=HEAD, rotation=270, ha='center', va='center')

fig.savefig('out.png', dpi=100)
